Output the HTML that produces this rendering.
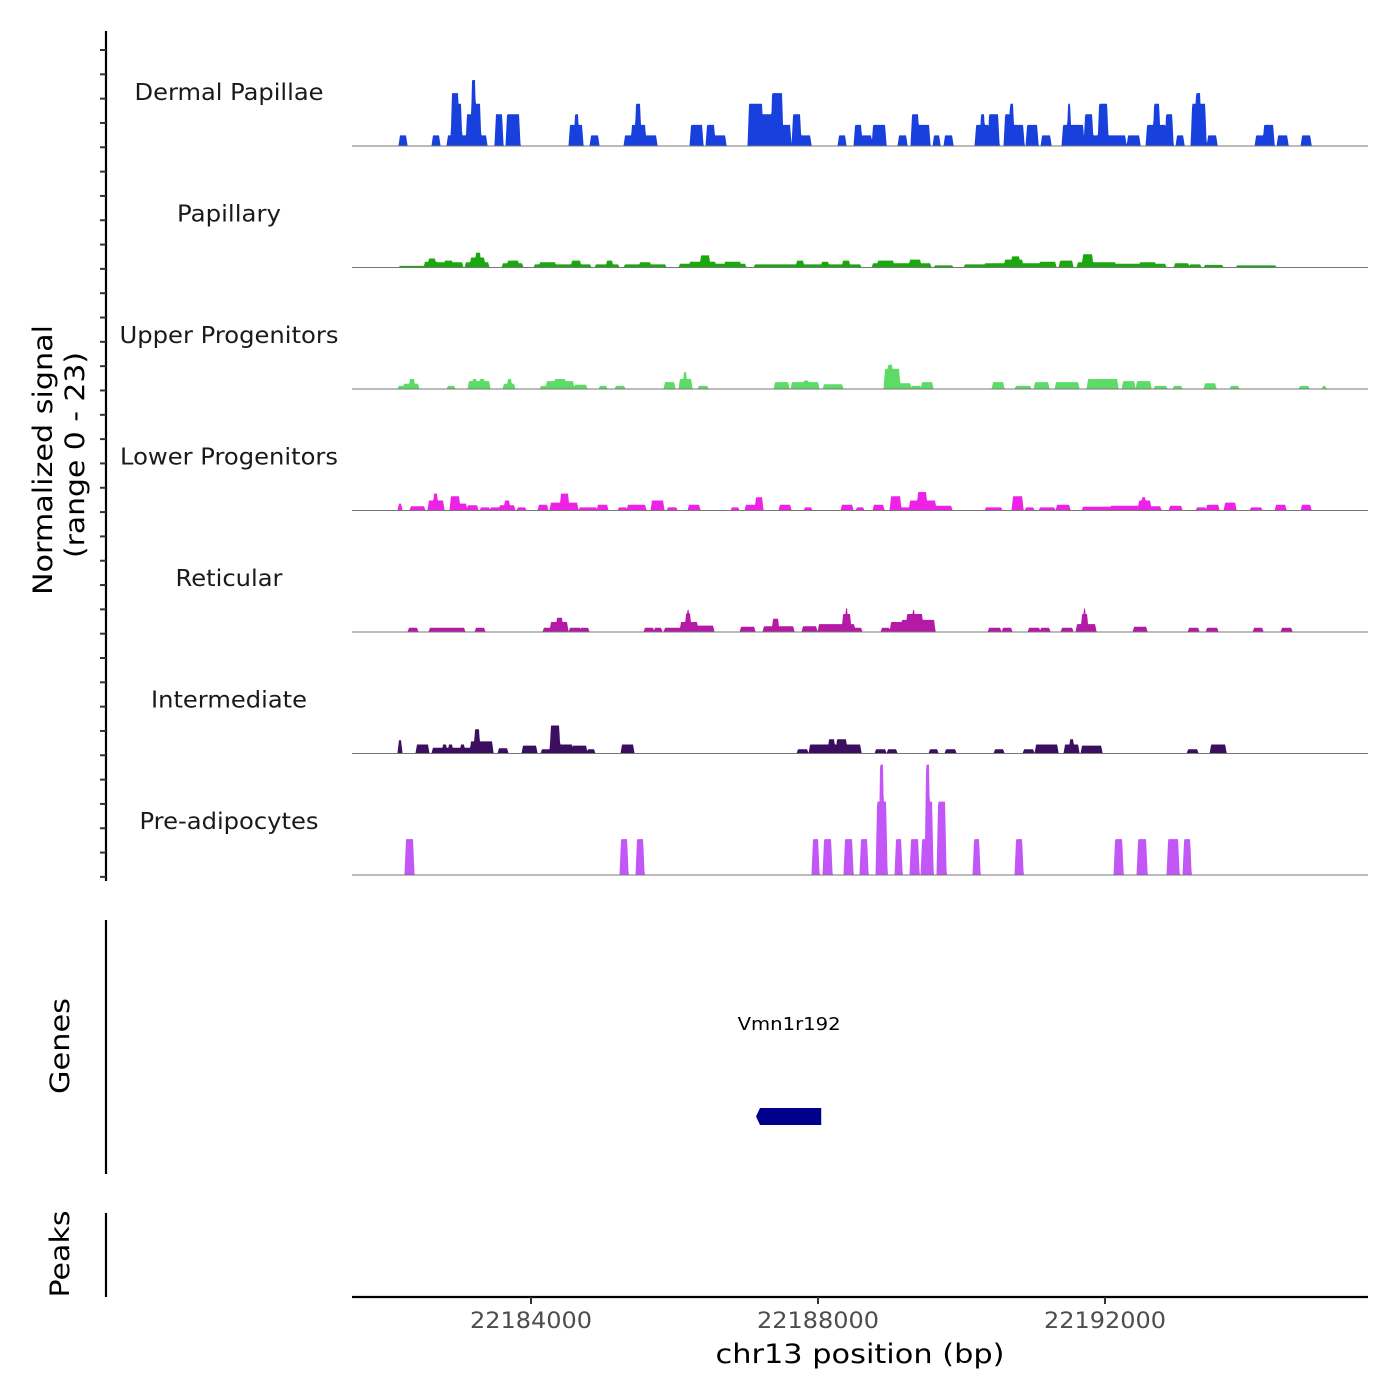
<!DOCTYPE html>
<html><head><meta charset="utf-8"><style>
html,body{margin:0;padding:0;background:#fff;}
svg{display:block;font-family:"DejaVu Sans","Liberation Sans",sans-serif;}
</style></head><body>
<svg id="chart" width="1400" height="1400" viewBox="0 0 1400 1400" xmlns="http://www.w3.org/2000/svg">
<g id="tracks"></g>
<g id="leftaxis"></g>
<text transform="translate(52,460) rotate(-90)" text-anchor="middle" font-size="27" textLength="270" lengthAdjust="spacingAndGlyphs" fill="#000">Normalized signal</text>
<text transform="translate(84,455) rotate(-90)" text-anchor="middle" font-size="27" textLength="206" lengthAdjust="spacingAndGlyphs" fill="#000">(range 0 - 23)</text>
<line x1="106" y1="920" x2="106" y2="1174" stroke="#000" stroke-width="2.2"/>
<text transform="translate(69,1046) rotate(-90)" text-anchor="middle" font-size="27" textLength="96" lengthAdjust="spacingAndGlyphs" fill="#000">Genes</text>
<g id="genes"></g>
<line x1="106" y1="1213" x2="106" y2="1297" stroke="#000" stroke-width="2.2"/>
<text transform="translate(69,1254) rotate(-90)" text-anchor="middle" font-size="27" textLength="87" lengthAdjust="spacingAndGlyphs" fill="#000">Peaks</text>
<g id="xaxis"></g>
<text x="860" y="1363" text-anchor="middle" font-size="27" textLength="289" lengthAdjust="spacingAndGlyphs" fill="#000">chr13 position (bp)</text>
</svg>
<script>
const regionStart = 22181505;
const regionEnd = 22195666;
const yMax = 23;
const trackNames = ["Dermal Papillae","Papillary","Upper Progenitors","Lower Progenitors","Reticular","Intermediate","Pre-adipocytes"];
const labelWidths = [189,104,219,218,107,156,179];
const trackColors = ["#1740dc","#1aa80f","#5cdb67","#ee22e6","#b41aa6","#3c0e5f","#c256f6"];
const xTicks = [22184000,22188000,22192000];
const xTickLabels = ["22184000","22188000","22192000"];
// blocks: [startOffsetBp, endOffsetBp, value]
const dermalPapillae = [[669,753,2],[1129,1213,2],[1338,1394,2],[1394,1478,10],[1478,1519,8],[1519,1603,2],[1603,1673,6],[1673,1715,12.5],[1715,1784,8],[1784,1868,2],[2007,2091,6],[2161,2328,6],[3039,3206,4],[3109,3150,6],[3332,3429,2],[3806,4238,2],[3903,4084,4],[3959,4015,8],[4726,4879,4],[4949,5046,4],[5046,5200,2],[5534,5715,8],[5715,5855,6],[5855,5994,10],[5994,6106,4],[6148,6245,6],[6245,6385,2],[6789,6872,2],[7012,7095,4],[7109,7235,2],[7263,7430,4],[7625,7723,2],[7806,7890,6],[7890,8043,4],[8113,8183,2],[8266,8364,2],[8699,8866,4],[8768,8810,6],[8880,9005,6],[9103,9200,6],[9173,9214,8],[9214,9354,4],[9410,9549,4],[9619,9730,2],[9911,10190,4],[9981,10009,8],[10218,10316,6],[10316,10399,2],[10413,10525,8],[10525,10776,2],[10817,10971,2],[11082,11333,4],[11180,11250,8],[11347,11431,6],[11500,11584,2],[11710,11891,8],[11765,11821,10],[11933,12044,2],[12602,12713,2],[12713,12839,4],[12908,13034,2],[13243,13355,2]];
const papillary = [[669,1018,0.3],[1018,1185,1.1],[1073,1157,1.7],[1185,1533,1.0],[1296,1394,1.3],[1589,1896,1],[1659,1840,1.9],[1729,1784,2.8],[2105,2370,0.8],[2175,2314,1.3],[2551,3318,0.6],[2621,2830,1],[3067,3178,1.3],[3401,3708,0.6],[3555,3624,1.3],[3806,4363,0.6],[4015,4154,1],[4572,5478,0.7],[4712,5060,1.1],[4865,4977,2.3],[5200,5409,1.1],[5618,6385,0.6],[6203,6287,1.3],[6385,7082,0.6],[6552,6635,1.1],[6845,6928,1.3],[7263,8057,0.8],[7332,7542,1.3],[7778,7918,1.5],[8127,8364,0.4],[8545,8894,0.6],[8824,9800,0.8],[9103,9340,1.5],[9200,9298,2.1],[9591,9800,1.1],[9870,10037,1.3],[10120,10636,1],[10190,10316,2.5],[10636,11333,0.7],[10985,11194,1],[11473,11654,0.8],[11682,11821,0.6],[11891,12128,0.5],[12337,12867,0.4]];
const upperProgenitors = [[655,711,0.6],[725,920,1],[809,864,1.9],[1338,1422,0.6],[1631,1910,1.5],[1687,1729,1.9],[1784,1840,1.9],[2119,2258,1],[2175,2216,1.9],[2635,2718,0.6],[2718,3081,1.5],[2830,2969,1.9],[3109,3262,0.8],[3457,3541,0.6],[3680,3792,0.6],[4363,4489,1.3],[4572,4726,1.9],[4628,4656,3.2],[4837,4949,0.6],[5897,6078,1.3],[6134,6496,1.3],[6301,6357,1.6],[6580,6831,0.9],[7430,7625,3.8],[7472,7528,4.6],[7625,7779,1.1],[7806,7918,0.6],[7946,8085,1.3],[8936,9075,1.3],[9256,9451,0.6],[9521,9702,1.3],[9814,10120,1.3],[10260,10441,1.9],[10441,10664,1.9],[10748,10901,1.5],[10943,11124,1.5],[11194,11347,0.6],[11459,11556,0.6],[11891,12030,1.1],[12253,12351,0.6],[13215,13327,0.6],[13536,13564,0.6]];
const lowerProgenitors = [[655,683,1.3],[822,1004,0.8],[1073,1269,1.9],[1143,1185,3.2],[1380,1492,2.7],[1492,1589,1.3],[1617,1743,1],[1798,1910,0.6],[1938,2049,0.6],[2063,2258,1],[2133,2189,1.9],[2314,2412,0.6],[2607,2718,1.1],[2774,3137,1.5],[2913,3011,3.2],[3178,3401,0.6],[3429,3555,1.1],[3722,3820,0.6],[3847,4084,1.1],[4182,4335,1.9],[4405,4517,0.6],[4698,4837,1.1],[5297,5381,0.6],[5492,5632,1.1],[5632,5715,2.5],[5966,6106,1.1],[6315,6398,0.6],[6831,6970,1.1],[7040,7123,0.6],[7277,7402,1.1],[7514,7639,2.7],[7639,7779,0.6],[7779,8127,1.9],[7890,8002,3.5],[8127,8350,0.9],[8838,9047,0.6],[9214,9340,2.7],[9396,9493,0.6],[9591,9786,0.6],[9828,9995,1.1],[10190,10580,0.7],[10580,10985,0.9],[10971,11124,1.9],[11013,11055,2.5],[11124,11264,0.8],[11403,11556,0.9],[11779,11891,0.6],[11919,12072,1.1],[12170,12309,1.5],[12532,12671,0.6],[12881,13006,1.1],[13243,13355,1.1]];
const reticular = [[795,906,0.8],[1087,1561,0.8],[1729,1840,0.8],[2676,2774,0.8],[2774,2997,1.9],[2858,2927,2.7],[3039,3178,0.8],[3192,3290,0.8],[4084,4196,0.8],[4224,4307,0.8],[4363,5032,0.8],[4586,4809,1.9],[4656,4712,3.5],[4677,4691,4.2],[4809,5032,1.2],[5423,5604,1],[5743,6148,1.1],[5869,5939,2.5],[6287,6468,1.1],[6510,6649,1.5],[6649,6998,1.5],[6845,6942,3.4],[6886,6900,4.5],[6998,7095,0.8],[7388,7486,0.8],[7514,7667,1.9],[7667,8113,2.3],[7737,7946,3.4],[7820,7834,4.2],[8880,9033,0.8],[9075,9186,0.8],[9437,9577,0.8],[9605,9716,0.8],[9897,10037,0.8],[10106,10357,1.5],[10176,10246,3.4],[10204,10218,4.5],[10901,11068,1],[11668,11793,0.8],[11919,12058,0.8],[12574,12685,0.8],[12964,13090,0.8]];
const intermediate = [[655,683,2.5],[906,1059,1.7],[1129,1659,1.1],[1269,1310,1.7],[1352,1394,1.7],[1519,1561,1.7],[1659,1952,2.3],[1715,1770,4.6],[2049,2161,1],[2384,2565,1.5],[2649,2774,0.8],[2774,2886,5.3],[2900,3067,1.7],[3081,3262,1.5],[3290,3373,0.8],[3764,3917,1.7],[6217,6343,0.8],[6385,6538,1.7],[6538,7082,1.7],[6649,6719,2.7],[6761,6886,2.7],[7305,7430,0.8],[7472,7583,0.8],[8057,8155,0.8],[8280,8406,0.8],[8963,9075,0.8],[9368,9493,0.8],[9535,9828,1.7],[9939,10120,1.7],[10009,10051,2.7],[10176,10441,1.5],[11654,11779,0.8],[11975,12170,1.7]];
const preAdipocytes = [[753,850,6.8],[3750,3834,6.8],[3973,4057,6.8],[6426,6496,6.8],[6580,6677,6.8],[6872,6970,6.8],[7095,7179,6.8],[7319,7444,13.9],[7360,7402,20.9],[7583,7653,6.8],[7792,7890,6.8],[7946,8002,6.8],[8002,8043,20.9],[8043,8085,13.9],[8169,8266,13.9],[8671,8740,6.8],[9256,9340,6.8],[10636,10734,6.8],[10957,11068,6.8],[11375,11514,6.8],[11598,11682,6.8]];
const trackData = [dermalPapillae,papillary,upperProgenitors,lowerProgenitors,reticular,intermediate,preAdipocytes];
const geneNames = ["Vmn1r192"];
const geneStarts = [22187150];
const geneEnds = [22188045];

const NS = "http://www.w3.org/2000/svg";
const plotLeft = 352, plotRight = 1368;
const firstBaseline = 146, trackStep = 121.5, trackH = 121.5;
function xScale(bp){ return plotLeft + (bp - regionStart) / (regionEnd - regionStart) * (plotRight - plotLeft); }
function yScale(v, base){ return base - v / yMax * trackH; }
function mk(tag, attrs, parent){ const e = document.createElementNS(NS, tag); for (const k in attrs) e.setAttribute(k, attrs[k]); parent.appendChild(e); return e; }
function profile(blocks, bp){
  const ramp = 22; let m = 0;
  for (const b of blocks){
    const s = regionStart + b[0], e = regionStart + b[1];
    let f = 0;
    if (bp >= s && bp <= e) f = 1;
    else if (bp > s - ramp && bp < s) f = (bp - (s - ramp)) / ramp;
    else if (bp > e && bp < e + ramp) f = ((e + ramp) - bp) / ramp;
    if (f * b[2] > m) m = f * b[2];
  }
  return m;
}
const tracksG = document.getElementById('tracks');
trackNames.forEach((name, i) => {
  const base = firstBaseline + i * trackStep;
  const g = mk('g', {}, tracksG);
  
  
  let d = 'M' + plotLeft + ' ' + base;
  for (let px = plotLeft; px <= plotRight; px += 0.5){
    const bp = regionStart + (px - plotLeft) / (plotRight - plotLeft) * (regionEnd - regionStart);
    d += ' L' + px.toFixed(1) + ' ' + yScale(profile(trackData[i], bp), base).toFixed(2);
  }
  d += ' L' + plotRight + ' ' + base + ' Z';
  const area = mk('path', {d: d, fill: trackColors[i], stroke: 'none'}, g);
  
  
  const bl = mk('line', {x1: plotLeft, y1: base, x2: plotRight, y2: base, stroke: '#777', 'stroke-width': 1}, g);
  
  
  const lab = mk('text', {x: 229, y: base - 46, 'text-anchor': 'middle', 'font-size': 23, fill: '#1a1a1a', textLength: labelWidths[i], lengthAdjust: 'spacingAndGlyphs'}, g);
  lab.textContent = name;
  
  
});
const la = document.getElementById('leftaxis');
const axl = mk('line', {x1: 106, y1: 31, x2: 106, y2: 881, stroke: '#000', 'stroke-width': 2.2}, la);


for (let k = 0; k < 35; k++){
  const y = 50 + k * 24.32;
  const t = mk('line', {x1: 100, y1: y, x2: 106, y2: y, stroke: '#333', 'stroke-width': 2}, la);
  
  
}
const gg = document.getElementById('genes');
geneNames.forEach((n, i) => {
  const x1 = xScale(geneStarts[i]), x2 = xScale(geneEnds[i]);
  const r = mk('path', {d: 'M' + (x1 + 3) + ' 1108 L' + x2 + ' 1108 L' + x2 + ' 1125 L' + (x1 + 3) + ' 1125 L' + (x1 - 1) + ' 1116.5 Z', fill: '#00008b'}, gg);
  
  
  const t = mk('text', {x: (x1 + x2) / 2, y: 1030, 'text-anchor': 'middle', 'font-size': 18, fill: '#000', textLength: 103, lengthAdjust: 'spacingAndGlyphs'}, gg);
  t.textContent = n;
  
  
});
const xa = document.getElementById('xaxis');
const xl = mk('line', {x1: plotLeft, y1: 1297, x2: plotRight, y2: 1297, stroke: '#000', 'stroke-width': 2.2}, xa);


xTicks.forEach((v, i) => {
  const x = xScale(v);
  const t = mk('line', {x1: x, y1: 1297, x2: x, y2: 1304, stroke: '#333', 'stroke-width': 2}, xa);
  
  
  const lb = mk('text', {x: x, y: 1328, 'text-anchor': 'middle', 'font-size': 22, fill: '#4d4d4d', textLength: 122, lengthAdjust: 'spacingAndGlyphs'}, xa);
  lb.textContent = xTickLabels[i];
  
  
});
</script>
</body></html>
